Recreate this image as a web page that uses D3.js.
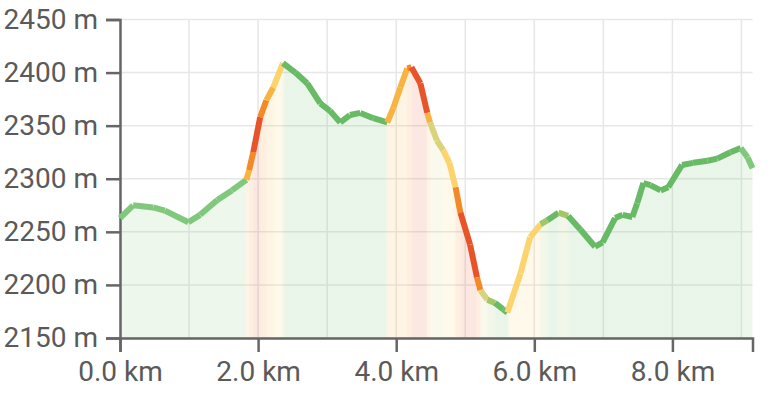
<!DOCTYPE html>
<html>
<head>
<meta charset="utf-8">
<script src="https://cdn.jsdelivr.net/npm/d3@7"></script>
<style>
  html, body { margin: 0; padding: 0; background: #fff; }
  svg { display: block; }
  .tick text { font-family: Roboto, "Noto Sans", sans-serif; fill: #5a5a5a; }
</style>
</head>
<body>
<svg id="chart" width="776" height="401"></svg>
<script>
// distance along the route (km)
const distKm = [0.00,0.19,0.48,0.65,0.99,1.16,1.41,1.62,1.83,1.87,1.93,2.03,2.12,2.22,2.36,
  2.54,2.71,2.90,3.04,3.19,3.33,3.48,3.67,3.87,3.96,4.06,4.16,4.22,4.35,4.45,4.49,4.59,4.68,
  4.77,4.86,4.93,5.07,5.17,5.22,5.32,5.43,5.55,5.61,5.80,5.94,6.09,6.19,6.35,6.49,6.67,6.88,
  6.99,7.17,7.28,7.42,7.49,7.58,7.68,7.83,7.94,8.14,8.30,8.51,8.65,8.84,8.99,9.09,9.16];
// elevation (m)
const elevM = [2263,2275,2273,2270,2259,2266,2280,2289,2299,2308,2325,2358,2374,2386,2409,
  2400,2390,2371,2364,2353,2360,2362,2357,2353,2367,2386,2404,2405,2390,2362,2353,2336,2327,
  2315,2292,2268,2238,2207,2195,2186,2183,2177,2174,2211,2245,2257,2261,2268,2265,2252,2236,
  2240,2263,2266,2264,2277,2296,2294,2289,2292,2313,2315,2317,2319,2325,2329,2320,2310];
// steepness class of each segment (0 = gentle ... 7 = steepest)
const gradeClass = [1,1,1,1,1,1,1,1,5,6,7,6,5,4,
  0,0,0,0,0,0,0,0,0,5,5,5,6,7,7,5,3,3,4,4,6,7,7,6,3,2,0,0,4,4,4,2,0,2,0,0,
  0,0,0,0,0,0,0,0,0,0,0,0,0,0,0,1,1];
const gradeColors = ["#68ba64","#80c97c","#a3c766","#d9d37c","#fcd46e","#f8b443","#f38a27","#e8542a"];
const yTicks = [2150,2200,2250,2300,2350,2400,2450];
const xTicks = [0,2,4,6,8];
const xGrid = [0,1,2,3,4,5,6,7,8,9];

const svg = d3.select("#chart");
const L = 120, R = 752.5, T = 19.5, B = 338;

const x = d3.scaleLinear().domain([0, d3.max(distKm)]).range([L, R]);
const y = d3.scaleLinear().domain([2150, 2450]).range([B, T]);
const color = d3.scaleOrdinal().domain(d3.range(gradeColors.length)).range(gradeColors);

const pts = distKm.map((d, i) => ({d, e: elevM[i]}));
const segs = d3.range(pts.length - 1).map(i => ({a: pts[i], b: pts[i + 1], c: gradeClass[i]}));

// grid
const grid = svg.append("g");
grid.selectAll(".hg").data(yTicks).join("line")
  .attr("x1", L).attr("x2", R).attr("y1", d => y(d)).attr("y2", d => y(d))
  .attr("stroke", "#e7e7e7").attr("stroke-width", 1.5);
grid.selectAll(".vg").data(xGrid).join("line")
  .attr("x1", d => x(d)).attr("x2", d => x(d)).attr("y1", T).attr("y2", B)
  .attr("stroke", "#e7e7e7").attr("stroke-width", 1.5);

// horizontal gradient following the steepness colours
const total = d3.max(distKm);
const grad = svg.append("defs").append("linearGradient")
  .attr("id", "fillGrad").attr("gradientUnits", "userSpaceOnUse")
  .attr("x1", x(0)).attr("x2", x(total)).attr("y1", 0).attr("y2", 0);
const stops = [];
segs.forEach(s => {
  const a = s.a.d / total, b = s.b.d / total;
  stops.push({o: a + (b - a) * 0.2, c: color(s.c)});
  stops.push({o: b - (b - a) * 0.2, c: color(s.c)});
});
grad.selectAll("stop").data(stops).join("stop")
  .attr("offset", s => s.o).attr("stop-color", s => s.c);

const area = d3.area().x(p => x(p.d)).y0(y(2150)).y1(p => y(p.e));
svg.append("path").datum(pts)
  .attr("d", area)
  .attr("fill", "url(#fillGrad)")
  .attr("fill-opacity", 0.14);

// axes
const yAxis = d3.axisLeft(y).tickValues(yTicks).tickSize(14).tickSizeOuter(14).tickPadding(8)
  .tickFormat(d => d + " m");
const xAxis = d3.axisBottom(x).tickValues(xTicks).tickSize(14).tickSizeOuter(14).tickPadding(9)
  .tickFormat(d => d.toFixed(1) + " km");

const gy = svg.append("g").attr("transform", `translate(${L},0)`).call(yAxis);
const gx = svg.append("g").attr("transform", `translate(0,${B})`).call(xAxis);
[gx, gy].forEach(g => {
  g.select(".domain").attr("stroke", "#666").attr("stroke-width", 2.5);
  g.selectAll(".tick line").attr("stroke", "#666").attr("stroke-width", 2.5);
  g.selectAll(".tick text").attr("font-size", 28).style("fill", "#5a5a5a");
});

// elevation line, coloured by steepness
const line = d3.line().x(p => x(p.d)).y(p => y(p.e));
svg.append("g").selectAll("path").data(segs).join("path")
  .attr("d", s => line([s.a, s.b]))
  .attr("fill", "none")
  .attr("stroke", s => color(s.c))
  .attr("stroke-width", 6)
  .attr("stroke-linecap", "butt");
</script>
</body>
</html>
